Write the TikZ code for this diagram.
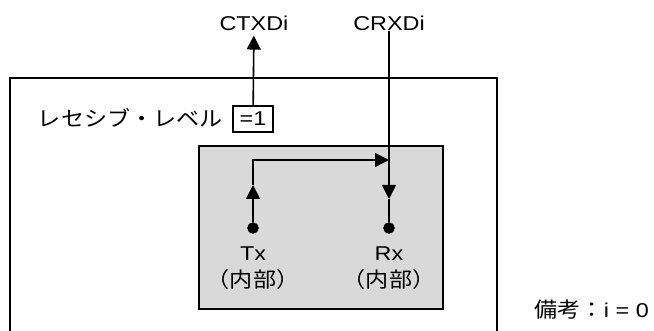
\documentclass[tikz,border=0pt]{standalone}
\usepackage{fontspec}
\setmainfont{Liberation Sans}[FakeStretch=1.17]
\newfontfamily\jp{Noto Sans CJK JP}[FakeStretch=1.1, Scale=1.05]
\usetikzlibrary{arrows.meta, positioning}
\definecolor{boxgray}{RGB}{217,217,217}
\tikzstyle{wire}   = [line width=1.6pt]
\tikzstyle{arrow}  = [line width=1.6pt, -{Triangle[length=14pt, width=14pt]}]
\tikzstyle{vertex} = [draw, circle, fill=black, minimum size=11pt, inner sep=0pt]
\tikzstyle{pin}    = [align=center, inner sep=0pt]

\begin{document}
\begin{tikzpicture}[x=1pt, y=-1pt, font=\fontsize{20}{27}\selectfont]
\useasboundingbox (0,0) rectangle (654,331);

% rámy
\draw[wire] (10,345) |- (497,78) -- (497,345);
\draw[wire, fill=boxgray] (199,146) rectangle (443,309);

% signály
\node[inner sep=0pt] (ctxdi) at (254,23) {CTXDi};
\node[inner sep=0pt] (crxdi) at (389,23) {CRXDi};
\node[draw, wire, minimum width=40pt, minimum height=26pt, inner sep=0pt] (eqone) at (253,119) {=1};
\node[anchor=east, inner sep=0pt] (level) at (223,118) {\jp レセシブ・レベル};

% vnitřní body
\node[vertex] (tx) at (253,228) {};
\node[vertex] (rx) at (389,228) {};
\node[pin] (txname) at (253,268) {Tx\\{\jp （内部）}};
\node[pin] (rxname) at (389,268) {Rx\\{\jp （内部）}};

\node[anchor=east, inner sep=0pt] (note) at (649,310) {{\jp 備考：}i = 0};

\coordinate (txup) at (253,185);
\coordinate (join) at (389,160);
\coordinate (rxdown) at (389,199);

% spoje
\draw[arrow, shorten >=5pt] (eqone) -- (ctxdi);
\draw[arrow] (crxdi) -- (rxdown);
\draw[wire] (rxdown) -- (rx);
\draw[arrow] (tx) -- (txup);
\draw[arrow] (txup) |- (join);

\end{tikzpicture}
\end{document}
